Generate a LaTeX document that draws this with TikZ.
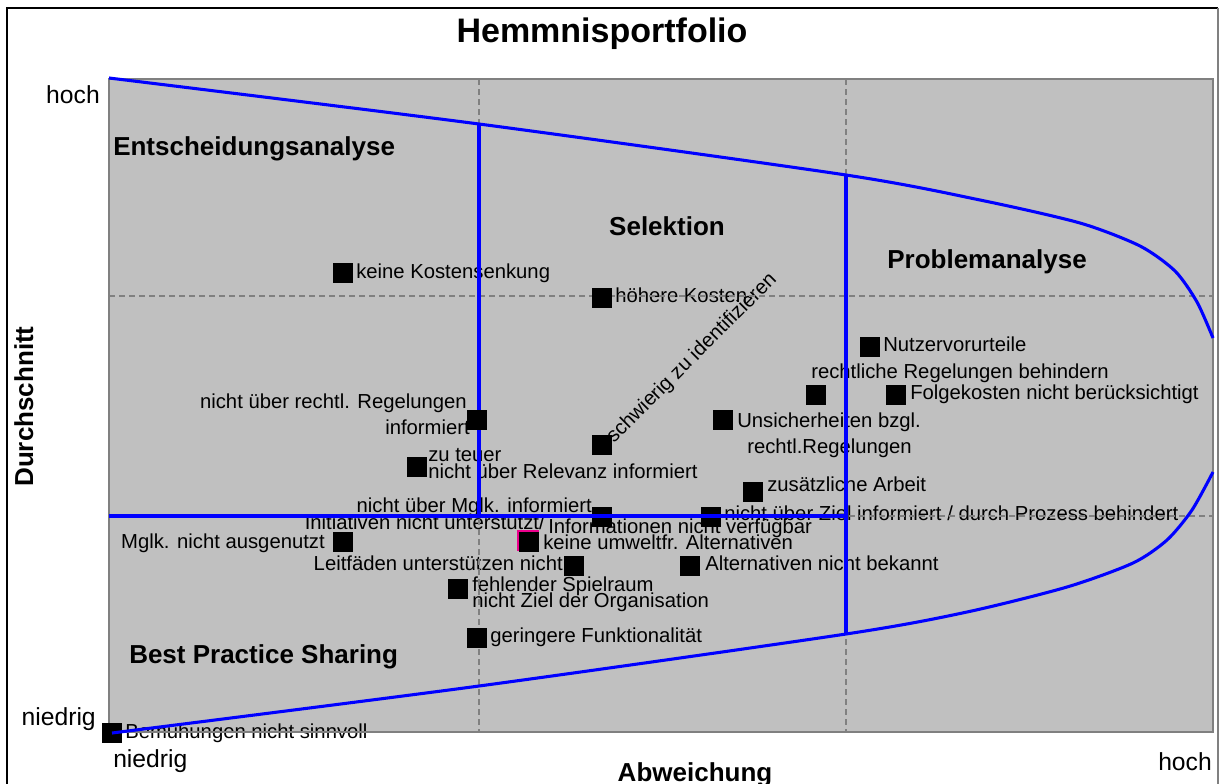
\documentclass[tikz,border=0pt]{standalone}
\usepackage{fontspec}
\setmainfont{Liberation Sans}
\definecolor{plotbg}{HTML}{C0C0C0}
\definecolor{gridgray}{HTML}{808080}
\definecolor{bndblue}{HTML}{0000FF}
\begin{document}
\begin{tikzpicture}[x=0.75pt,y=-0.75pt,
  lbl/.style={font=\fontsize{15.2}{17}\selectfont, inner sep=0pt},
  region/.style={font=\bfseries\fontsize{19.5}{22}\selectfont, inner sep=0pt},
  axislbl/.style={font=\fontsize{18.5}{21}\selectfont, inner sep=0pt},
  marker/.style={fill=black, draw=none, minimum size=14.5pt, inner sep=0pt},
  gridline/.style={draw=gridgray, dash pattern=on 4.5pt off 3pt, line width=0.8pt},
  bound/.style={draw=bndblue, line width=2.3pt, line join=round},
]
\useasboundingbox (0,0) rectangle (1219,783);
\clip (0,0) rectangle (1219,783);

% frame
\draw[line width=1.5pt] (7,800) -- (7,8) -- (1218,8);
\draw[gridgray, line width=1pt] (1218,8) -- (1218,800);

% plot area
\fill[plotbg] (109,79) rectangle (1213,732);

% title and axes
\node[font=\bfseries\fontsize{25.5}{30}\selectfont, inner sep=0pt, anchor=base] (title) at (602,42) {Hemmnisportfolio};
\node[axislbl, anchor=base east] (yhigh) at (100,103) {hoch};
\node[axislbl, anchor=base east] (ylow) at (96,725) {niedrig};
\node[axislbl, anchor=base west] (xlow) at (113,767) {niedrig};
\node[axislbl, anchor=base east] (xhigh) at (1212,770) {hoch};
\node[region, anchor=base] (xaxis) at (695,781) {Abweichung};
\node[region, anchor=base west, rotate=90] (yaxis) at (33,487) {Durchschnitt};

% quadrant names
\node[region, anchor=base west] (qEA) at (113,155) {Entscheidungsanalyse};
\node[region, anchor=base] (qSel) at (667,235) {Selektion};
\node[region, anchor=base] (qPA) at (987,268) {Problemanalyse};
\node[region, anchor=base west] (qBPS) at (129,663) {Best Practice Sharing};

% item labels
\node[lbl, anchor=base west] (l1) at (356,278) {keine Kostensenkung};
\node[lbl, anchor=base west] (l2) at (615,302) {höhere Kosten};
\node[lbl, anchor=base west] (l3) at (883,351) {Nutzervorurteile};
\node[lbl, anchor=base west] (l4) at (811,378) {rechtliche Regelungen behindern};
\node[lbl, anchor=base west] (l5) at (910,399) {Folgekosten nicht berücksichtigt};
\node[lbl, anchor=base west] (l6a) at (737,427) {Unsicherheiten bzgl.};
\node[lbl, anchor=base west] (l6b) at (747,453) {rechtl.Regelungen};
\node[lbl, anchor=base west, rotate=45] (l7) at (614,444) {schwierig zu identifizieren};
\node[lbl, anchor=base west] (l8a) at (428,461) {zu teuer};
\node[lbl, anchor=base west] (l8b) at (428,478) {nicht über Relevanz informiert};
\node[lbl, anchor=base east] (l9a) at (467,408) {nicht über rechtl. Regelungen};
\node[lbl, anchor=base east] (l9b) at (470,434) {informiert};
\node[lbl, anchor=base east] (l10a) at (592,512) {nicht über Mglk. informiert};
\node[lbl, anchor=base east] (l10b) at (545,529) {Initiativen nicht unterstützt/};
\node[lbl, anchor=base west] (l10c) at (548,533) {Informationen nicht verfügbar};
\node[lbl, anchor=base west] (l11) at (724,520) {nicht über Ziel informiert / durch Prozess behindert};
\node[lbl, anchor=base west] (l12) at (767,491) {zusätzliche Arbeit};
\node[lbl, anchor=base east] (l13) at (325,548) {Mglk. nicht ausgenutzt};
\node[lbl, anchor=base west] (l14) at (543,549) {keine umweltfr. Alternativen};
\node[lbl, anchor=base east] (l15) at (563,570) {Leitfäden unterstützen nicht};
\node[lbl, anchor=base west] (l16) at (705,570) {Alternativen nicht bekannt};
\node[lbl, anchor=base west] (l17a) at (472,591) {fehlender Spielraum};
\node[lbl, anchor=base west] (l17b) at (472,607) {nicht Ziel der Organisation};
\node[lbl, anchor=base west] (l18) at (490,642) {geringere Funktionalität};
\node[lbl, anchor=base west] (l19) at (125,738) {Bemühungen nicht sinnvoll};

% grid and plot border
\draw[gridline] (479,79) -- (479,732);
\draw[gridline] (846,79) -- (846,732);
\draw[gridline] (109,296) -- (1213,296);
\draw[gridline] (109,516) -- (1213,516);
\draw[gridgray, line width=1.3pt] (109,79) rectangle (1213,732);

% markers
\node[marker] (m1) at (343,273) {};
\node[marker] (m2) at (602,298) {};
\node[marker] (m3) at (870,347) {};
\node[marker] (m4) at (816,395) {};
\node[marker] (m5) at (896,395) {};
\node[marker] (m6) at (723,420) {};
\node[marker] (m7) at (602,445) {};
\node[marker] (m8) at (417,467) {};
\node[marker] (m10) at (602,517) {};
\node[marker] (m11) at (711,517) {};
\node[marker] (m12) at (753,492) {};
\node[marker] (m13) at (343,542) {};
\node[marker] (m14) at (529,542) {};
\draw[magenta, line width=0.8pt] (518,551) -- (518,531) -- (539,531);
\node[marker] (m15) at (574,566) {};
\node[marker] (m16) at (690,566) {};
\node[marker] (m17) at (458,589) {};
\node[marker] (m18) at (477,638) {};
\node[marker] (m19) at (112,733) {};

% portfolio boundaries
\draw[bound] plot[smooth, tension=0.45] coordinates {(109,78) (479,124) (846,175) (980,200) (1080,223) (1140,246) (1175,271) (1197,302) (1213,338)};
\draw[bound] plot[smooth, tension=0.45] coordinates {(112,733) (479,686) (846,634) (967,612) (1067,587) (1133,563) (1167,540) (1192,510) (1213,472)};
\draw[bound] (479,124) -- (479,516);
\draw[bound] (846,175) -- (846,634);
\draw[bound] (109,516) -- (846,516);

\node[marker] (m9) at (477,420) {};
\end{tikzpicture}
\end{document}
